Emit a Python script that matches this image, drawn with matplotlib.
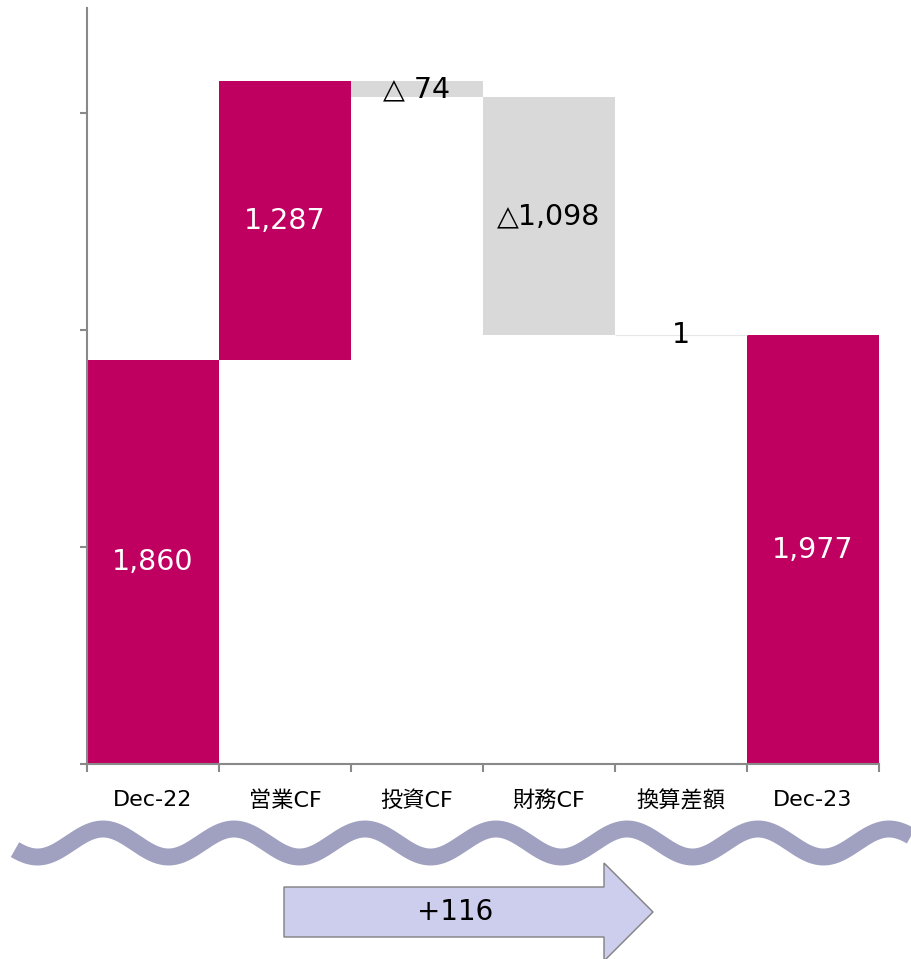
import numpy as np
import matplotlib.pyplot as plt
from matplotlib.patches import Polygon

plt.rcParams['font.family'] = ['DejaVu Sans', 'Noto Sans CJK JP']

# Data
categories = ['Dec-22', '営業CF', '投資CF', '財務CF', '換算差額', 'Dec-23']
start_value = 1860
changes = [1287, -74, -1098, 1]
end_value = 1977
value_labels = ['1,860', '1,287', '△ 74', '△1,098', '1', '1,977']
total_change = '+116'

# Colors
magenta = '#C00060'
grey = '#D9D9D9'
spine_col = '#898989'

# waterfall bottoms / heights
bottoms = [0]
heights = [start_value]
level = start_value
for c in changes:
    if c >= 0:
        bottoms.append(level)
        heights.append(c)
    else:
        bottoms.append(level + c)
        heights.append(-c)
    level += c
bottoms.append(0)
heights.append(end_value)
colors = [magenta] + [magenta if c > 10 else grey for c in changes] + [magenta]

fig = plt.figure(figsize=(9.11, 9.59), dpi=100)
ax = fig.add_axes([87 / 911, 1 - 764 / 959, 792 / 911, 756 / 959])

x = np.arange(len(categories))
ax.bar(x, heights, bottom=bottoms, width=1.0, color=colors, linewidth=0)
# the tiny conversion bar shows as a faint line
ax.bar(x[4], heights[4], bottom=bottoms[4], width=1.0, color=grey,
       edgecolor='#E6E6E6', linewidth=0.8)

for i in range(len(categories)):
    txt_col = 'white' if colors[i] == magenta else 'black'
    ax.text(x[i], bottoms[i] + heights[i] / 2, value_labels[i], ha='center', va='center',
            fontsize=20.5, color=txt_col)

ax.set_xlim(-0.5, len(categories) - 0.5)
ax.set_ylim(0, 3484)
ax.set_yticks([0, 1000, 2000, 3000])
ax.set_yticklabels([])
ax.set_xticks(np.arange(len(categories) + 1) - 0.5)
ax.set_xticklabels([])
ax.set_xticks(x, minor=True)
ax.set_xticklabels(categories, minor=True, fontsize=16)
ax.tick_params(axis='x', which='major', length=6, width=1.5, color=spine_col, direction='out')
ax.tick_params(axis='x', which='minor', length=0, pad=19)
ax.tick_params(axis='y', length=5, width=1.5, color=spine_col, direction='out')
for s in ['top', 'right']:
    ax.spines[s].set_visible(False)
for s in ['left', 'bottom']:
    ax.spines[s].set_color(spine_col)
    ax.spines[s].set_linewidth(1.5)

# decoration layer (pixel coordinates)
deco = fig.add_axes([0, 0, 1, 1], facecolor='none')
deco.set_xlim(0, 911)
deco.set_ylim(959, 0)
deco.axis('off')

wx = np.linspace(15, 911, 800)
wy = 843 - 14 * np.cos(2 * np.pi * (wx - 103) / 131)
deco.plot(wx, wy, color='#A0A0C0', linewidth=12.2, solid_capstyle='butt')

arrow = Polygon([(284, 887), (604, 887), (604, 863), (653, 912), (604, 961),
                 (604, 937), (284, 937)], closed=True, facecolor='#CDCDED',
                edgecolor='#808080', linewidth=1)
deco.add_patch(arrow)
deco.text(455, 912, total_change, ha='center', va='center', fontsize=20, color='black')

fig.savefig('out.png', dpi=100)
